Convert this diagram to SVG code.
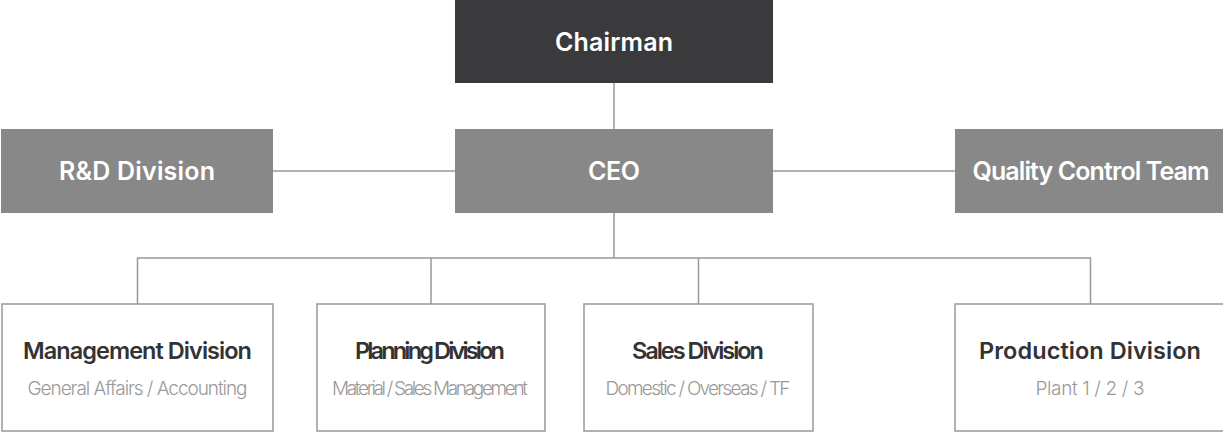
<svg xmlns="http://www.w3.org/2000/svg" width="1223" height="432" viewBox="0 0 1223 432">
<style>
.dark{fill:#3a3a3c}
.gray{fill:#888888}
.box{fill:#ffffff;stroke:#999999;stroke-width:1.5}
.ht{font-family:Inter,"Noto Sans",sans-serif;font-weight:600;font-size:25px;fill:#ffffff;text-anchor:middle}
.tt{font-family:Inter,"Noto Sans",sans-serif;font-weight:600;font-size:23.5px;fill:#333333;text-anchor:middle}
.st{font-family:Inter,"Noto Sans",sans-serif;font-weight:300;font-size:19px;fill:#999999;text-anchor:middle}
.ln{fill:none;stroke:#999999;stroke-width:1.5}
</style>
<g id="connectors">
<line class="ln" x1="614" y1="83" x2="614" y2="129"/>
<line class="ln" x1="273" y1="171" x2="455" y2="171"/>
<line class="ln" x1="773" y1="171" x2="955" y2="171"/>
<line class="ln" x1="614" y1="213" x2="614" y2="258"/>
<polyline class="ln" points="137.5,304 137.5,258 1090.5,258 1090.5,304"/>
<line class="ln" x1="431" y1="258" x2="431" y2="304"/>
<line class="ln" x1="698.5" y1="258" x2="698.5" y2="304"/>
</g>
<g id="chairman">
<rect class="dark" x="455" y="0" width="318" height="83"/>
<text class="ht" x="614" y="51" textLength="118" lengthAdjust="spacing">Chairman</text>
</g>
<g id="ceo">
<rect class="gray" x="455" y="129" width="318" height="84"/>
<text class="ht" x="614" y="180" textLength="52" lengthAdjust="spacing">CEO</text>
</g>
<g id="rnd">
<rect class="gray" x="1" y="129" width="272" height="84"/>
<text class="ht" x="137" y="180" textLength="156" lengthAdjust="spacing">R&amp;D Division</text>
</g>
<g id="quality">
<rect class="gray" x="955" y="129" width="272" height="84"/>
<text class="ht" x="1091" y="180" textLength="237" lengthAdjust="spacing">Quality Control Team</text>
</g>
<g id="management">
<rect class="box" x="2" y="304" width="271" height="127"/>
<text class="tt" x="137.5" y="359" textLength="229" lengthAdjust="spacing">Management Division</text>
<text class="st" x="137.5" y="395" textLength="220" lengthAdjust="spacing">General Affairs / Accounting</text>
</g>
<g id="planning">
<rect class="box" x="317" y="304" width="228" height="127"/>
<text class="tt" x="430" y="359" textLength="150" lengthAdjust="spacing">Planning Division</text>
<text class="st" x="430" y="395" textLength="196" lengthAdjust="spacing">Material / Sales Management</text>
</g>
<g id="sales">
<rect class="box" x="584" y="304" width="229" height="127"/>
<text class="tt" x="698" y="359" textLength="132" lengthAdjust="spacing">Sales Division</text>
<text class="st" x="698" y="395" textLength="185" lengthAdjust="spacing">Domestic / Overseas / TF</text>
</g>
<g id="production">
<rect class="box" x="955" y="304" width="272" height="127"/>
<text class="tt" x="1090" y="359" textLength="222" lengthAdjust="spacing">Production Division</text>
<text class="st" x="1090" y="395" textLength="109" lengthAdjust="spacing">Plant 1 / 2 / 3</text>
</g>
</svg>
